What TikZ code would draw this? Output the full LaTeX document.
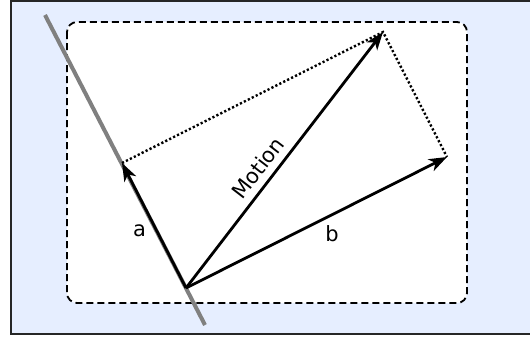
\documentclass[tikz,border=0pt]{standalone}
\usepackage{fontspec}
\setmainfont{DejaVu Sans}
\usetikzlibrary{arrows.meta}
\definecolor{bgblue}{HTML}{E6EEFF}
\tikzset{
  vec/.style={line width=2.8pt,-{Stealth[length=18pt,width=13pt,inset=5pt]}},
  guide/.style={line width=2.4pt, dash pattern=on 2.2pt off 2.2pt},
  lbl/.style={font=\fontsize{21pt}{24pt}\selectfont, inner sep=1pt}
}
\begin{document}
\begin{tikzpicture}[x=1pt,y=-1pt]
\useasboundingbox (0,0) rectangle (530,340);
\draw[fill=bgblue, draw=black!85, line width=2pt] (11,1) rectangle (536,334);
\draw[fill=white, line width=1.8pt, dash pattern=on 7pt off 4pt, rounded corners=10pt] (67,22) rectangle (467,303);
\coordinate (g1) at (45,15);
\coordinate (g2) at (205,325);
\draw[gray, line width=4pt] (g1) -- (g2);
\coordinate (O) at (186,288);
\coordinate (A) at (122,163);
\coordinate (B) at (447,157);
\coordinate (M) at (383,32);
\draw[guide] (A) -- (M) -- (B);
\draw[vec] (O) -- (A);
\draw[vec] (O) -- (B);
\draw[vec] (O) -- (M);
\node[lbl] (la) at (139.5,231) {a};
\node[lbl] (lb) at (332,234) {b};
\node[lbl, rotate=52.4] (lm) at (258,168) {Motion};
\end{tikzpicture}
\end{document}
